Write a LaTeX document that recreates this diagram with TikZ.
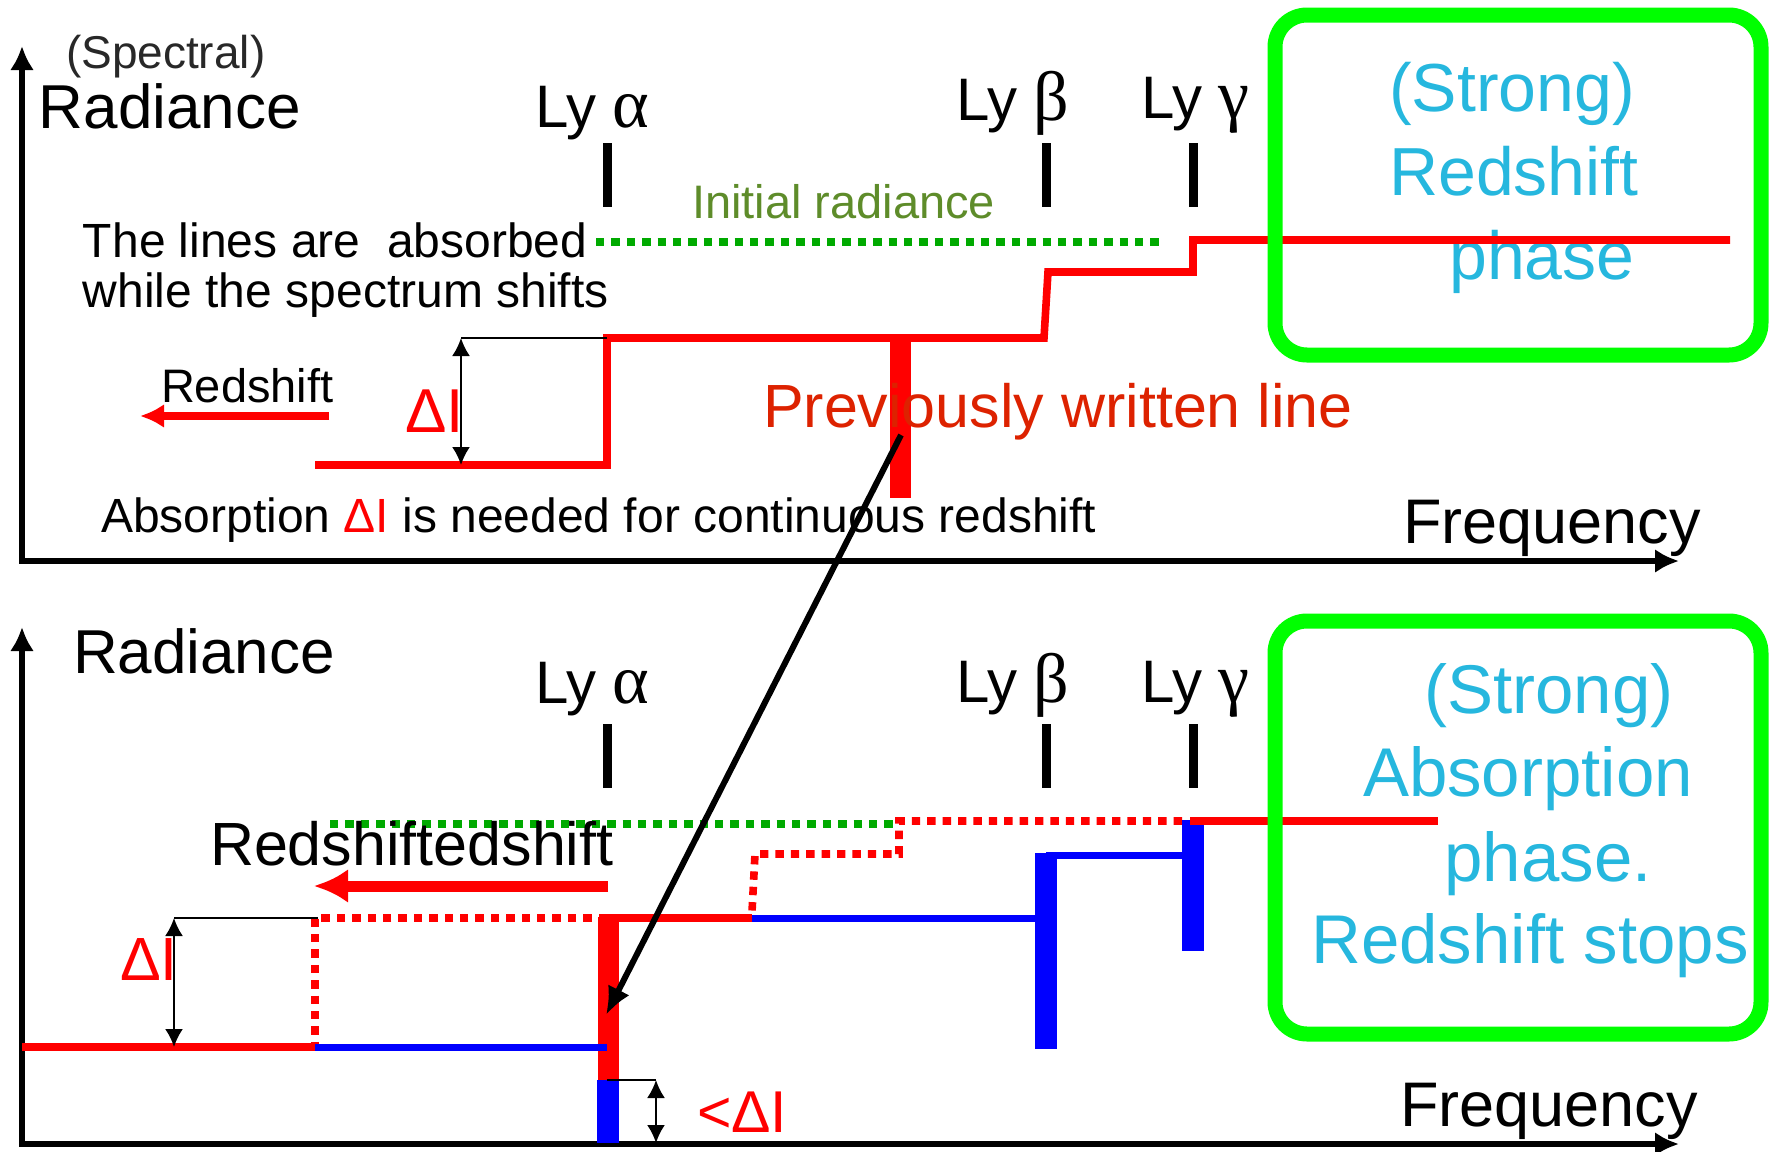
\documentclass[tikz,border=0pt]{standalone}
\usepackage{fontspec}
\setmainfont{Liberation Sans}
\newfontfamily\grfont{Liberation Serif}
\usetikzlibrary{arrows.meta}

\definecolor{spred}{RGB}{255,0,0}
\definecolor{spblue}{RGB}{0,0,255}
\definecolor{txtred}{RGB}{221,34,0}
\definecolor{olive}{RGB}{94,140,42}
\definecolor{dotgreen}{RGB}{0,170,0}
\definecolor{boxgreen}{RGB}{0,255,0}
\definecolor{phasecyan}{RGB}{38,183,222}
\definecolor{darktext}{RGB}{40,40,40}

\newcommand\setsz[1]{\fontsize{#1}{#1}\selectfont}
\newcommand\lyline[1]{Ly~{\grfont\fontsize{35pt}{35pt}\selectfont #1}}

\tikzset{
  txt/.style={inner sep=0pt, outer sep=0pt, anchor=base west},
  ctxt/.style={inner sep=0pt, outer sep=0pt, anchor=base, text=phasecyan},
  axis/.style={line width=3pt, black, line join=miter,
    {Latex[length=12pt,width=12pt]}-{Latex[length=12pt,width=12pt]}},
  ticker/.style={line width=4.5pt, black},
  redline/.style={line width=3.8pt, spred},
  blueline/.style={line width=3.5pt, spblue},
  redbar/.style={line width=10.5pt, spred},
  bluebar/.style={line width=11pt, spblue},
  reddots/.style={line width=3.8pt, spred, dash pattern=on 4.2pt off 3.5pt},
  greendots/.style={line width=3.8pt, dotgreen, dash pattern=on 4.2pt off 3.5pt},
  dimline/.style={line width=1.1pt, black},
  dimarrow/.style={line width=1.1pt, black,
    {Latex[length=9pt,width=9pt]}-{Latex[length=9pt,width=9pt]}},
  phasebox/.style={draw=boxgreen, line width=7.5pt, rounded corners=16pt,
    inner sep=0pt, outer sep=0pt, minimum width=243pt},
}

\begin{document}
\begin{tikzpicture}[x=0.5pt, y=-0.5pt]
\useasboundingbox (0,0) rectangle (1769,1152);

% ================= upper panel: redshift phase =================
\coordinate (yTop1) at (22,46);
\coordinate (orig1) at (22,561);
\coordinate (xEnd1) at (1679,561);
\draw[axis] (yTop1) -- (orig1) -- (xEnd1);

% line positions
\draw[ticker] (607,143) -- (607,207);
\draw[ticker] (1046,143) -- (1046,207);
\draw[ticker] (1193,143) -- (1193,207);

% initial radiance level
\draw[greendots] (596,242) -- (1160,242);

% shifted spectrum
\draw[redline] (315,465) -- (607,465) -- (607,338) -- (1044,338)
  -- (1048,272) -- (1193,272) -- (1193,240) -- (1730,240);
\coordinate (barTop1) at (900,334);
\coordinate (barBot1) at (900,498);
\draw[redbar] (barTop1) -- (barBot1);

% absorption step
\draw[dimline] (461,338) -- (607,338);
\draw[dimarrow] (461,338) -- (461,465);

% redshift direction
\coordinate (rsA1) at (329,416);
\coordinate (rsB1) at (140,416);
\draw[line width=3.8pt, spred, -{Latex[length=12pt,width=12pt]}] (rsA1) -- (rsB1);

% labels
\node[txt, text=darktext] (spectral) at (66,68) {\setsz{23pt}(Spectral)};
\node[txt] (rad1) at (39,128) {\setsz{31pt}Radiance};
\node[txt] (lya1) at (535,127) {\setsz{30pt}\lyline{α}};
\node[txt] (lyb1) at (956,120) {\setsz{30pt}\lyline{β}};
\node[txt] (lyc1) at (1141,118) {\setsz{30pt}\lyline{γ}};
\node[txt, text=olive] (initrad) at (692,218) {\setsz{23.5pt}Initial radiance};
\node[txt] (absA) at (83,257) {\setsz{24pt}The lines are\ \ absorbed};
\node[txt] (absB) at (83,307) {\setsz{24pt}while the spectrum shifts};
\node[txt] (rs1) at (161,402) {\setsz{23.5pt}Redshift};
\node[txt, text=spred] (dI1) at (405,432) {\setsz{31pt}ΔI};
\node[txt, text=txtred] (prev) at (763,427) {\setsz{30.5pt}Previously written line};
\node[txt] (need) at (101,532) {\setsz{24pt}Absorption {\color{spred}ΔI} is needed for continuous redshift};
\node[txt] (freq1) at (1403,543) {\setsz{31.5pt}Frequency};

\node[ctxt] (st1) at (1512,111) {\setsz{34pt}(Strong)};
\node[ctxt] (rsp1) at (1514,195) {\setsz{34pt}Redshift};
\node[ctxt] (ph1) at (1542,279) {\setsz{34pt}phase};
\draw[redline] (1193,240) -- (1730,240);
\node[phasebox, minimum height=170pt] (box1) at (1518,185) {};

% ================= lower panel: absorption phase =================
\coordinate (yTop2) at (22,627);
\coordinate (orig2) at (22,1144);
\coordinate (xEnd2) at (1679,1144);
\draw[axis] (yTop2) -- (orig2) -- (xEnd2);

\draw[ticker] (607,724) -- (607,788);
\draw[ticker] (1046,724) -- (1046,788);
\draw[ticker] (1193,724) -- (1193,788);

% initial radiance level
\draw[greendots] (330,824) -- (895,824);

% earlier spectrum (dotted)
\draw[reddots] (1182,821) -- (899,821) -- (899,854) -- (755,854) -- (752,912);
\draw[reddots] (607,918) -- (315,918) -- (315,1047);

% current spectrum
\draw[redline] (22,1047) -- (315,1047);
\draw[redbar] (608,917) -- (608,1080);
\coordinate (barTip2) at (606,1015);
\draw[bluebar] (608,1080) -- (608,1143);
\draw[blueline] (315,1047) -- (607,1047);
\draw[redline] (604,918) -- (752,918);
\draw[blueline] (752,918) -- (1046,918);
\draw[bluebar] (1046,853) -- (1046,1049);
\draw[blueline] (1046,855) -- (1193,855);
\draw[bluebar] (1193,820) -- (1193,951);

% redshift direction
\coordinate (rsA2) at (608,886);
\coordinate (rsB2) at (314,886);
\draw[line width=5.5pt, spred, -{Latex[length=17pt,width=17pt]}] (rsA2) -- (rsB2);

% absorption steps
\draw[dimline] (174,918) -- (318,918);
\draw[dimarrow] (174,918) -- (174,1047);
\draw[dimline] (607,1080) -- (656,1080);
\draw[dimarrow] (656,1080) -- (656,1143);

% labels
\node[txt] (rad2) at (73,673) {\setsz{31pt}Radiance};
\node[txt] (lya2) at (535,703) {\setsz{30pt}\lyline{α}};
\node[txt] (lyb2) at (956,702) {\setsz{30pt}\lyline{β}};
\node[txt] (lyc2) at (1141,702) {\setsz{30pt}\lyline{γ}};
\node[txt] (rs2) at (210,865) {\setsz{30.5pt}Redshiftedshift};
\node[txt, text=spred] (dI2) at (120,980) {\setsz{30.5pt}ΔI};
\node[txt, text=spred] (ltdI) at (697,1132) {\setsz{29.5pt}<ΔI};
\node[txt] (freq2) at (1400,1126) {\setsz{31.5pt}Frequency};

\node[ctxt] (st2) at (1549,713) {\setsz{34.5pt}(Strong)};
\node[ctxt] (abs2) at (1528,796) {\setsz{34.5pt}Absorption};
\node[ctxt] (ph2) at (1548,881) {\setsz{34.5pt}phase.};
\node[ctxt] (stop2) at (1530,963) {\setsz{34.5pt}Redshift stops};
\draw[redline] (1190,821) -- (1438,821);
\node[phasebox, minimum height=206.5pt] (box2) at (1518,827.5) {};

% the previously written line ends up at Ly alpha
\coordinate (barMid1) at (901,435);
\draw[line width=3pt, black, -{Latex[length=14pt,width=12pt]}] (barMid1) -- (barTip2);
\end{tikzpicture}
\end{document}
